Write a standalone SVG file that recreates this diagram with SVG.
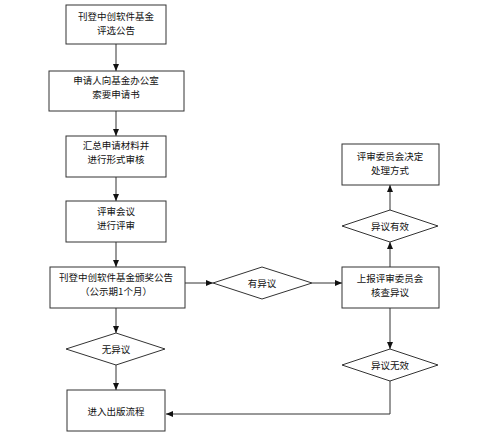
<svg xmlns="http://www.w3.org/2000/svg" width="500" height="438" viewBox="0 0 500 438">
<style>
.n{fill:#fff;stroke:#333;stroke-width:1}
.t{font-family:"Noto Sans CJK SC","Liberation Sans",sans-serif;font-size:9.5px;fill:#111;text-anchor:middle}
.c{fill:none;stroke:#333;stroke-width:1}
</style>
<defs>
<marker id="a" markerWidth="7" markerHeight="6" refX="7" refY="3" orient="auto" markerUnits="userSpaceOnUse">
<path d="M0,0 L7,3 L0,6 Z" fill="#111"/>
</marker>
</defs>
<rect width="500" height="438" fill="#fff"/>
<g id="connectors">
<line class="c" x1="116" y1="44" x2="116" y2="71" marker-end="url(#a)"/>
<line class="c" x1="116" y1="111" x2="116" y2="136" marker-end="url(#a)"/>
<line class="c" x1="116" y1="177" x2="116" y2="201" marker-end="url(#a)"/>
<line class="c" x1="116" y1="242" x2="116" y2="267" marker-end="url(#a)"/>
<line class="c" x1="185" y1="283" x2="213" y2="283" marker-end="url(#a)"/>
<line class="c" x1="312" y1="283" x2="342" y2="283" marker-end="url(#a)"/>
<line class="c" x1="116" y1="308" x2="116" y2="333" marker-end="url(#a)"/>
<line class="c" x1="116" y1="365" x2="116" y2="390" marker-end="url(#a)"/>
<line class="c" x1="390" y1="308" x2="390" y2="349" marker-end="url(#a)"/>
<line class="c" x1="390" y1="267" x2="390" y2="242" marker-end="url(#a)"/>
<line class="c" x1="390" y1="210" x2="390" y2="185" marker-end="url(#a)"/>
<polyline class="c" points="390,381 390,414 166,414" marker-end="url(#a)"/>
</g>
<g id="n1"><rect class="n" x="66" y="5" width="100" height="39"/>
<text class="t" x="116" y="20">刊登中创软件基金</text><text class="t" x="116" y="34">评选公告</text></g>
<g id="n2"><rect class="n" x="49" y="71" width="135" height="40"/>
<text class="t" x="116" y="84">申请人向基金办公室</text><text class="t" x="116" y="98">索要申请书</text></g>
<g id="n3"><rect class="n" x="66" y="136" width="100" height="41"/>
<text class="t" x="116" y="149">汇总申请材料并</text><text class="t" x="116" y="163">进行形式审核</text></g>
<g id="n4"><rect class="n" x="66" y="201" width="100" height="41"/>
<text class="t" x="116" y="215">评审会议</text><text class="t" x="116" y="229">进行评审</text></g>
<g id="n5"><rect class="n" x="50" y="267" width="135" height="41"/>
<text class="t" x="116" y="281">刊登中创软件基金颁奖公告</text><text class="t" x="116" y="295">（公示期1个月）</text></g>
<g id="d1"><polygon class="n" points="213,283 262,267 312,283 262,299"/>
<text class="t" x="262" y="287">有异议</text></g>
<g id="n6"><rect class="n" x="342" y="267" width="97" height="41"/>
<text class="t" x="390" y="281.5">上报评审委员会</text><text class="t" x="390" y="295.5">核查异议</text></g>
<g id="d2"><polygon class="n" points="66,349 116,333 165,349 116,365"/>
<text class="t" x="116" y="353">无异议</text></g>
<g id="n7"><rect class="n" x="67" y="390" width="98" height="41"/>
<text class="t" x="116" y="415">进入出版流程</text></g>
<g id="d3"><polygon class="n" points="342,365 390,349 438,365 390,381"/>
<text class="t" x="390" y="369">异议无效</text></g>
<g id="d4"><polygon class="n" points="342,226 390,210 438,226 390,242"/>
<text class="t" x="390" y="230">异议有效</text></g>
<g id="n8"><rect class="n" x="342" y="144" width="97" height="41"/>
<text class="t" x="390" y="159.5">评审委员会决定</text><text class="t" x="390" y="173.5">处理方式</text></g>
</svg>
